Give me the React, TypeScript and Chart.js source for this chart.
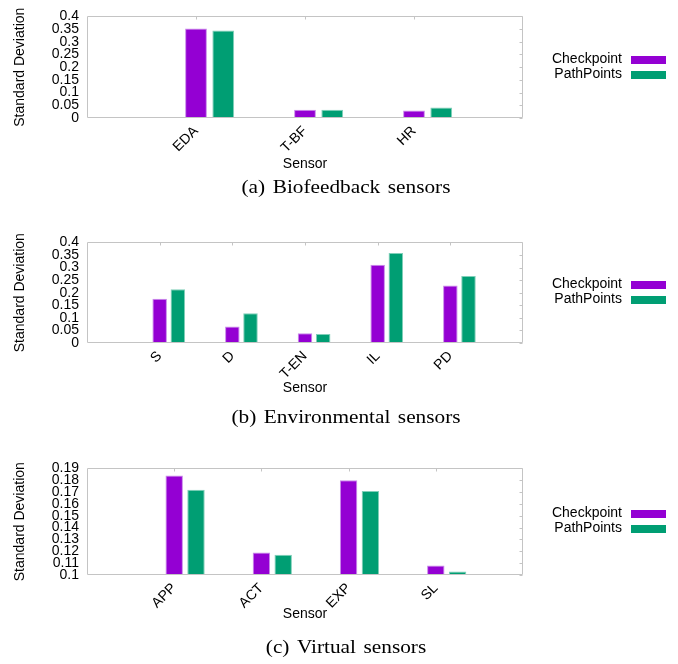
import React, { useEffect, useRef } from 'react';
import { Chart, registerables } from 'chart.js';

Chart.register(...registerables);

// ---------- data ----------
const SERIES_NAMES = ['Checkpoint', 'PathPoints'];
const SERIES_COLORS = ['#9400d3', '#009e73'];
const SERIES_EDGES = ['#c98aea', '#80cfb9'];

const BIO_SENSORS = ['EDA', 'T-BF', 'HR'];
const BIO_CHECKPOINT = [0.352, 0.032, 0.030];
const BIO_PATHPOINTS = [0.344, 0.032, 0.041];
const BIO_Y_TICKS = [0, 0.05, 0.1, 0.15, 0.2, 0.25, 0.3, 0.35, 0.4];
const BIO_CAPTION = '(a) Biofeedback sensors';

const ENV_SENSORS = ['S', 'D', 'T-EN', 'IL', 'PD'];
const ENV_CHECKPOINT = [0.176, 0.066, 0.039, 0.311, 0.229];
const ENV_PATHPOINTS = [0.214, 0.118, 0.036, 0.358, 0.266];
const ENV_Y_TICKS = [0, 0.05, 0.1, 0.15, 0.2, 0.25, 0.3, 0.35, 0.4];
const ENV_CAPTION = '(b) Environmental sensors';

const VIR_SENSORS = ['APP', 'ACT', 'EXP', 'SL'];
const VIR_CHECKPOINT = [0.184, 0.119, 0.180, 0.108];
const VIR_PATHPOINTS = [0.172, 0.117, 0.171, 0.103];
const VIR_Y_TICKS = [0.1, 0.11, 0.12, 0.13, 0.14, 0.15, 0.16, 0.17, 0.18, 0.19];
const VIR_CAPTION = '(c) Virtual sensors';

const X_TITLE = 'Sensor';
const Y_TITLE = 'Standard Deviation';

// ---------- layout ----------
const WIDTH = 678;
const CLUSTER_OFFSET = 0.25;
const SANS = '"Liberation Sans", Arial, Helvetica, sans-serif';
const SERIF = '"Liberation Serif", "Times New Roman", serif';
const FRAME = '#c4c4c4';

Chart.defaults.font.family = SANS;
Chart.defaults.font.size = 14;
Chart.defaults.color = '#000';

type PanelCfg = {
  sensors: string[];
  checkpoint: number[];
  pathPoints: number[];
  yTicks: number[];
  caption: string;
  height: number;
  plotBottom: number;
  sensorY: number;
  captionY: number;
};

const PANELS: PanelCfg[] = [
  { sensors: BIO_SENSORS, checkpoint: BIO_CHECKPOINT, pathPoints: BIO_PATHPOINTS, yTicks: BIO_Y_TICKS, caption: BIO_CAPTION, height: 226, plotBottom: 118, sensorY: 164, captionY: 193 },
  { sensors: ENV_SENSORS, checkpoint: ENV_CHECKPOINT, pathPoints: ENV_PATHPOINTS, yTicks: ENV_Y_TICKS, caption: ENV_CAPTION, height: 226, plotBottom: 117, sensorY: 162, captionY: 197 },
  { sensors: VIR_SENSORS, checkpoint: VIR_CHECKPOINT, pathPoints: VIR_PATHPOINTS, yTicks: VIR_Y_TICKS, caption: VIR_CAPTION, height: 212, plotBottom: 123, sensorY: 162, captionY: 201 },
];

const framePlugin = {
  id: 'gnuFrame',
  afterDatasetsDraw(chart: any) {
    const { ctx, chartArea: a, scales } = chart;
    ctx.save();
    ctx.strokeStyle = FRAME;
    ctx.lineWidth = 1;
    const l = Math.round(a.left) + 0.5;
    const r = Math.round(a.right) - 0.5;
    const t = Math.round(a.top) + 0.5;
    const b = Math.round(a.bottom) - 0.5;
    ctx.beginPath();
    ctx.rect(l, t, r - l, b - t);
    // mirrored y ticks on right edge
    scales.y.ticks.forEach((tk: any) => {
      const py = Math.round(scales.y.getPixelForValue(tk.value)) + 0.5;
      ctx.moveTo(r - 3, py);
      ctx.lineTo(r, py);
    });
    // mirrored x ticks on top edge
    const n = chart.$cfgSensors.length;
    for (let i = 0; i < n; i++) {
      const px = Math.round(scales.x.getPixelForValue(i)) + 0.5;
      ctx.moveTo(px, t);
      ctx.lineTo(px, t + 3);
    }
    ctx.stroke();
    ctx.restore();
  },
};

const legendPlugin = {
  id: 'gnuLegend',
  afterDraw(chart: any) {
    const { ctx, chartArea: a } = chart;
    const ds = chart.data.datasets;
    const mid = (a.top + a.bottom) / 2;
    const gap = 15;
    ctx.save();
    ctx.font = `14px ${SANS}`;
    ctx.textAlign = 'right';
    ctx.textBaseline = 'middle';
    ds.forEach((d: any, i: number) => {
      const cy = mid + (i - (ds.length - 1) / 2) * gap;
      ctx.fillStyle = '#000';
      ctx.fillText(d.label, 622, cy - 1);
      ctx.fillStyle = d.backgroundColor;
      ctx.fillRect(631, Math.round(cy - 4), 35, 8);
    });
    ctx.restore();
  },
};

const captionPlugin = {
  id: 'caption',
  afterDraw(chart: any) {
    const { ctx } = chart;
    const cfg: PanelCfg = chart.$cfgPanel;
    ctx.save();
    ctx.font = `19px ${SERIF}`;
    ctx.fillStyle = '#000';
    ctx.textAlign = 'center';
    ctx.textBaseline = 'alphabetic';
    try { (ctx as any).wordSpacing = '2px'; } catch (e) {}
    ctx.translate(346, cfg.captionY);
    ctx.scale(1.12, 1);
    ctx.fillText(cfg.caption, 0, 0);
    ctx.restore();
  },
};

function Panel({ cfg }: { cfg: PanelCfg }) {
  const ref = useRef<HTMLCanvasElement | null>(null);
  useEffect(() => {
    if (!ref.current) return;
    const n = cfg.sensors.length;
    const H = cfg.height;
    const yMin = cfg.yTicks[0];
    const yMax = cfg.yTicks[cfg.yTicks.length - 1];
    const series = [cfg.checkpoint, cfg.pathPoints];
    const chart: any = new Chart(ref.current, {
      type: 'bar',
      data: {
        datasets: series.map((vals, s) => ({
          label: SERIES_NAMES[s],
          data: vals.map((v, i) => ({ x: i + s * CLUSTER_OFFSET, y: v })),
          backgroundColor: SERIES_COLORS[s],
          borderColor: SERIES_EDGES[s],
          borderWidth: 1,
        })),
      },
      options: {
        responsive: false,
        animation: false,
        devicePixelRatio: 1,
        layout: { padding: { left: 0, right: WIDTH - 523, top: 10, bottom: 0 } },
        datasets: { bar: { grouped: false, categoryPercentage: 1, barPercentage: 0.8 } } as any,
        plugins: { legend: { display: false }, tooltip: { enabled: false }, title: { display: false } },
        scales: {
          x: {
            type: 'linear',
            offset: false,
            min: -1,
            max: n,
            grid: { display: false, drawTicks: false },
            border: { display: false },
            afterBuildTicks: (s: any) => {
              s.ticks = Array.from({ length: n + 2 }, (_, i) => ({ value: i - 1 }));
            },
            ticks: {
              autoSkip: false,
              minRotation: 45,
              maxRotation: 45,
              padding: 5,
              color: '#000',
              font: { size: 14 },
              callback: (v: any) => (cfg.sensors[v] !== undefined ? cfg.sensors[v] : ''),
            },
            title: {
              display: true,
              text: X_TITLE,
              color: '#000',
              font: { size: 14 },
              padding: { top: 0, bottom: H - 8.4 - cfg.sensorY },
            },
            afterFit: (s: any) => { s.height = H - cfg.plotBottom; },
          } as any,
          y: {
            type: 'linear',
            min: yMin,
            max: yMax,
            grid: { display: false, drawTicks: false },
            border: { display: false },
            afterBuildTicks: (s: any) => {
              s.ticks = cfg.yTicks.map((v) => ({ value: v }));
            },
            ticks: {
              autoSkip: false,
              padding: 8,
              color: '#000',
              font: { size: 14 },
              callback: (v: any) => String(v),
            },
            title: {
              display: true,
              text: Y_TITLE,
              color: '#000',
              font: { size: 14 },
              padding: { top: 11.6, bottom: 0 },
            },
            afterFit: (s: any) => { s.width = 87; },
          } as any,
        },
      },
      plugins: [
        { id: 'cfgHolder', beforeInit(c: any) { c.$cfgSensors = cfg.sensors; c.$cfgPanel = cfg; } },
        framePlugin,
        legendPlugin,
        captionPlugin,
      ],
    } as any);
    return () => chart.destroy();
  }, [cfg]);
  return <canvas ref={ref} width={WIDTH} height={cfg.height} style={{ display: 'block', width: WIDTH, height: cfg.height }} />;
}

export default function App() {
  return (
    <div style={{ position: 'absolute', left: 0, top: 0, width: WIDTH, height: 664, background: '#fff' }}>
      {PANELS.map((p, i) => (
        <Panel key={i} cfg={p} />
      ))}
    </div>
  );
}
